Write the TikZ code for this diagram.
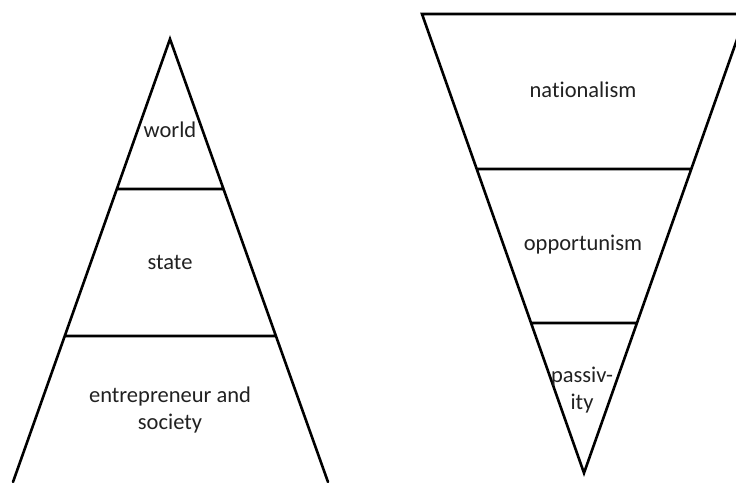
\documentclass[tikz,border=0pt]{standalone}
\usepackage{fontspec}
\setmainfont[RawFeature={-liga}]{Carlito}
\tikzset{
  layer/.style={font=\fontsize{22.5}{26.5}\selectfont,text=black!87,align=center,inner sep=0pt},
  edge/.style={line width=2.6pt,line cap=round,line join=miter}
}
\begin{document}
\begin{tikzpicture}[x=1pt,y=-1pt]
      \useasboundingbox (0,0) rectangle (736,482);
      \clip (0,0) rectangle (736,482);
      % upright pyramid
      \draw (170,39) coordinate (PA)
            (13,482) coordinate (PL)
            (328,482) coordinate (PR)
            (117,189) coordinate (P1L) (223,189) coordinate (P1R)
            (65,336) coordinate (P2L) (276,336) coordinate (P2R);
      \draw[edge] (PL)--(PA)--(PR) (P1L)--(P1R) (P2L)--(P2R);
      \node[layer] (world) at (170,130) {world};
      \node[layer] (state) at (170,262) {state};
      \node[layer] (society) at (170,410) {entrepreneur and\\society};

      % inverted pyramid
      \draw (584,473) coordinate (QA)
            (422,14) coordinate (QL)
            (746,14) coordinate (QR)
            (477,169) coordinate (Q1L) (691,169) coordinate (Q1R)
            (531,323) coordinate (Q2L) (637,323) coordinate (Q2R);
      \draw[edge] (QR)--(QL)--(QA)--cycle (Q1L)--(Q1R) (Q2L)--(Q2R);
      \node[layer] (nation) at (583,90) {nationalism};
      \node[layer] (opport) at (583,245) {opportunism};
      \node[layer] (passive) at (582,390) {passiv-\\ity};
\end{tikzpicture}
\end{document}
